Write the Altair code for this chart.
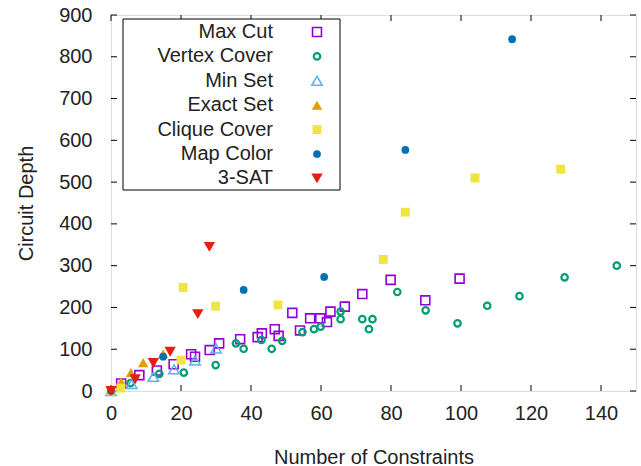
import altair as alt
import pandas as pd

# ---- data ----
series_names = ["Max Cut", "Vertex Cover", "Min Set", "Exact Set", "Clique Cover", "Map Color", "3-SAT"]

maxcut_x = [2.9, 8.1, 13.1, 17.9, 22.9, 24.0, 28.2, 30.9, 36.9, 41.9, 43.1, 46.8, 47.9, 51.8, 54.0, 56.9, 59.8, 61.7, 62.7, 66.8, 71.8, 79.9, 89.8, 99.6]
maxcut_y = [18, 38, 49, 64, 88, 82, 98, 114, 124, 129, 138, 148, 132, 187, 145, 174, 174, 165, 190, 202, 232, 266, 217, 269]

vertex_x = [5.6, 13.8, 20.8, 29.9, 35.7, 37.9, 43.0, 45.9, 48.9, 54.7, 58.0, 59.9, 65.6, 65.6, 71.8, 74.7, 73.7, 81.8, 89.9, 99.0, 107.5, 116.7, 129.6, 144.5]
vertex_y = [19, 41, 44, 62, 114, 101, 122, 101, 120, 141, 148, 154, 190, 172, 172, 172, 148, 237, 193, 162, 204, 227, 272, 300]

minset_x = [0, 5.9, 12.1, 18.0, 24.0, 30.0]
minset_y = [0, 17, 34, 52, 73, 102]

exact_x = [0, 2.9, 5.7, 9.2, 14.9]
exact_y = [0, 22, 44, 68, 89]

clique_x = [0, 2.8, 20.0, 20.6, 29.9, 47.7, 77.8, 84.1, 104.0, 128.5]
clique_y = [0, 7, 74, 248, 203, 206, 315, 428, 510, 531]

map_x = [0, 14.9, 37.9, 60.9, 84.1, 114.6]
map_y = [0, 82, 242, 273, 577, 842]

sat_x = [0, 6.9, 12.1, 16.9, 24.8, 28.1]
sat_y = [0, 28, 67, 94, 184, 345]

x_ticks = [0, 20, 40, 60, 80, 100, 120, 140]
y_ticks = [0, 100, 200, 300, 400, 500, 600, 700, 800, 900]

colors = ["#9400d3", "#009e73", "#56b4e9", "#e69f00", "#f0e442", "#0072b2", "#e51e10"]
shapes = ["square", "circle", "triangle-up", "triangle-up", "square", "circle", "triangle-down"]
filled = [False, False, False, True, True, True, True]
sizes = [80, 42, 110, 110, 80, 60, 130]
strokes = [1.6, 2.2, 1.5, 1, 1, 1, 1]

xs = [maxcut_x, vertex_x, minset_x, exact_x, clique_x, map_x, sat_x]
ys = [maxcut_y, vertex_y, minset_y, exact_y, clique_y, map_y, sat_y]

W, H = 525, 376
FONT = "Liberation Sans"

xscale = alt.Scale(domain=[0, 150], nice=False, zero=False)
yscale = alt.Scale(domain=[0, 900], nice=False, zero=False)


def point_mark(data, i):
    if filled[i]:
        return alt.Chart(data).mark_point(shape=shapes[i], filled=True, color=colors[i], size=sizes[i], opacity=1, strokeWidth=0)
    return alt.Chart(data).mark_point(shape=shapes[i], filled=False, color=colors[i], size=sizes[i], strokeWidth=strokes[i], opacity=1)


layers = []
for i, name in enumerate(series_names):
    df = pd.DataFrame({"x": xs[i], "y": ys[i], "s": name})
    enc_x = alt.X("x:Q", scale=xscale, axis=alt.Axis(values=x_ticks, title="Number of Constraints", grid=False, ticks=False, domain=False,
                                                   labelFlush=False, labelOverlap=False,
                                                   labelFont=FONT, labelFontSize=20, labelColor="#222", labelPadding=12,
                                                   titleFont=FONT, titleFontSize=20, titleFontWeight="normal", titleColor="#222", titlePadding=24))
    enc_y = alt.Y("y:Q", scale=yscale, axis=alt.Axis(values=y_ticks, title="Circuit Depth", grid=False, ticks=False, domain=False,
                                                   labelFlush=False, labelOverlap=False,
                                                   labelFont=FONT, labelFontSize=20, labelColor="#222", labelPadding=19,
                                                   titleFont=FONT, titleFontSize=20, titleFontWeight="normal", titleColor="#222", titlePadding=22))
    layers.append(point_mark(df, i).encode(x=enc_x, y=enc_y))

# inward ticks (gnuplot style, mirrored)
xt = pd.DataFrame({"v": x_ticks})
yt = pd.DataFrame({"v": y_ticks})
tick_layers = [
    alt.Chart(xt).mark_rule(color="black", strokeWidth=1).encode(x=alt.X("v:Q", scale=xscale), y=alt.value(H), y2=alt.value(H - 6)),
    alt.Chart(xt).mark_rule(color="black", strokeWidth=1).encode(x=alt.X("v:Q", scale=xscale), y=alt.value(0), y2=alt.value(6)),
    alt.Chart(yt).mark_rule(color="black", strokeWidth=1).encode(y=alt.Y("v:Q", scale=yscale), x=alt.value(0), x2=alt.value(6)),
    alt.Chart(yt).mark_rule(color="black", strokeWidth=1).encode(y=alt.Y("v:Q", scale=yscale), x=alt.value(W), x2=alt.value(W - 6)),
]

# legend (gnuplot style: right-aligned label, symbol on the right)
dummy = pd.DataFrame({"a": [0]})
leg_layers = [
    alt.Chart(dummy).mark_rect(fill="white", stroke="black", strokeWidth=1).encode(
        x=alt.value(12), x2=alt.value(229), y=alt.value(4), y2=alt.value(175))
]
row0, step = 17, 24.4
for i, name in enumerate(series_names):
    yy = row0 + i * step
    leg_layers.append(alt.Chart(dummy).mark_text(text=name, align="right", baseline="middle", font=FONT, fontSize=20, color="#222").encode(
        x=alt.value(162), y=alt.value(yy)))
    leg_layers.append(point_mark(dummy, i).encode(x=alt.value(206), y=alt.value(yy)))

chart = alt.layer(*tick_layers, *layers, *leg_layers).properties(
    width=W, height=H,
    autosize=alt.AutoSizeParams(type="none"),
    padding={"left": 111, "top": 15, "right": 5, "bottom": 75},
).configure_view(stroke="black", strokeWidth=1.2).configure(background="white")

chart.save("out.html", embed_options={"renderer": "svg", "actions": False})
